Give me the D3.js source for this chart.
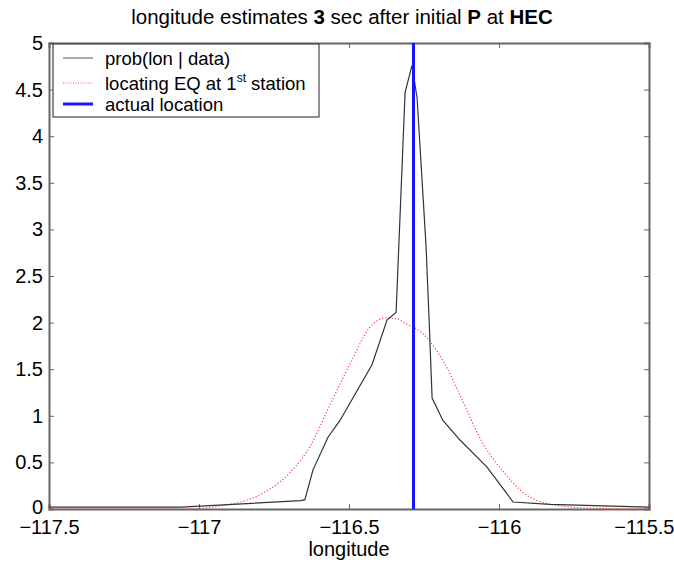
<!DOCTYPE html>
<html>
<head>
<meta charset="utf-8">
<style>
    body { margin: 0; background: white; }
    svg { display: block; font-family: "Liberation Sans", Arial, sans-serif; }
    .axis text { font-size: 20px; fill: #000; }
    .axis line, .axis path { stroke: #666; }
</style>
</head>
<body>
<svg width="674" height="565"></svg>
<script src="https://d3js.org/d3.v7.min.js"></script>
<script>
// posterior longitude probability
var probLon = [-117.5, -117.06, -116.66, -116.647, -116.62, -116.57, -116.53, -116.423, -116.373, -116.343,
               -116.313, -116.29, -116.273, -116.243, -116.233, -116.223, -116.187, -116.13, -116.04, -115.953,
               -115.83, -115.5];
var probVal = [0.02, 0.02, 0.09, 0.10, 0.42, 0.77, 0.95, 1.55, 2.03, 2.11,
               4.47, 4.76, 4.41, 2.81, 2.03, 1.19, 0.95, 0.74, 0.45, 0.075,
               0.05, 0.02];
// first-station estimate (red dotted)
var firstLon = [-117.5, -117.06, -116.897, -116.787, -116.697, -116.63, -116.563, -116.49, -116.433, -116.377,
                -116.34, -116.317, -116.25, -116.183, -116.127, -116.06, -115.983, -115.917, -115.827, -115.7, -115.5];
var firstVal = [0.0, 0.0, 0.05, 0.17, 0.39, 0.67, 1.12, 1.6, 1.94, 2.05,
                2.04, 2.0, 1.87, 1.57, 1.2, 0.74, 0.39, 0.17, 0.05, 0.01, 0.0];
var actualLon = -116.285;

var xTicks = [-117.5, -117, -116.5, -116, -115.5];
var yTicks = [0, 0.5, 1, 1.5, 2, 2.5, 3, 3.5, 4, 4.5, 5];
var legendLabels = ["prob(lon | data)", "locating EQ at 1", "actual location"];

var svg = d3.select("svg");
var mLeft = 49, mRight = 649, mTop = 43, mBottom = 509;

var x = d3.scaleLinear().domain([-117.5, -115.5]).range([mLeft, mRight]);
var y = d3.scaleLinear().domain([0, 5]).range([mBottom, mTop]);

// title
var title = svg.append("text")
    .attr("x", 342).attr("y", 24)
    .attr("text-anchor", "middle")
    .attr("font-size", "20.5px");
title.append("tspan").text("longitude estimates ");
title.append("tspan").attr("font-weight", "bold").text("3");
title.append("tspan").text(" sec after initial ");
title.append("tspan").attr("font-weight", "bold").text("P");
title.append("tspan").text(" at ");
title.append("tspan").attr("font-weight", "bold").text("HEC");

// axes, ticks pointing inward
var xAxisG = svg.append("g").attr("class", "axis")
    .attr("transform", "translate(0," + mBottom + ")")
    .call(d3.axisBottom(x).tickValues(xTicks).tickSize(-5).tickPadding(7).tickFormat(d3.format("")));
xAxisG.selectAll("text").attr("dy", "0.9em");
// last label sits against the window edge
xAxisG.selectAll("text").filter(function(d) { return d === -115.5; })
    .attr("text-anchor", "end").attr("x", 25);
svg.append("g").attr("class", "axis")
    .attr("transform", "translate(0," + mTop + ")")
    .call(d3.axisTop(x).tickValues(xTicks).tickSize(-5).tickFormat(""));
var yAxisG = svg.append("g").attr("class", "axis")
    .attr("transform", "translate(" + mLeft + ",0)")
    .call(d3.axisLeft(y).tickValues(yTicks).tickSize(-5).tickPadding(6).tickFormat(d3.format("")));
// keep the 0 label clear of the x labels
yAxisG.selectAll("text").filter(function(d) { return d === 0; }).attr("dy", "0.2em");
svg.append("g").attr("class", "axis")
    .attr("transform", "translate(" + mRight + ",0)")
    .call(d3.axisRight(y).tickValues(yTicks).tickSize(-5).tickFormat(""));
svg.selectAll(".axis path").attr("stroke-width", 2).attr("stroke", "#666");

svg.append("text")
    .attr("x", 349).attr("y", 556)
    .attr("text-anchor", "middle")
    .attr("font-size", "20px")
    .text("longitude");

var line = d3.line().x(function(d) { return x(d[0]); }).y(function(d) { return y(d[1]); });

svg.append("path")
    .datum(d3.zip(firstLon, firstVal))
    .attr("fill", "none")
    .attr("stroke", "#ff4040")
    .attr("stroke-width", 1.2)
    .attr("stroke-dasharray", "1.2,2")
    .attr("d", d3.line().curve(d3.curveMonotoneX).x(function(d) { return x(d[0]); }).y(function(d) { return y(d[1]); }));

svg.append("path")
    .datum(d3.zip(probLon, probVal))
    .attr("fill", "none")
    .attr("stroke", "#333")
    .attr("stroke-width", 1.2)
    .attr("d", line);

svg.append("line")
    .attr("x1", x(actualLon)).attr("x2", x(actualLon))
    .attr("y1", y(0)).attr("y2", y(5))
    .attr("stroke", "#1515ff")
    .attr("stroke-width", 3);

// legend
var leg = svg.append("g");
leg.append("rect")
    .attr("x", 53).attr("y", 44).attr("width", 266).attr("height", 73)
    .attr("fill", "white").attr("stroke", "#444").attr("stroke-width", 1.2);
var rowsY = [58, 83, 104];
leg.append("line").attr("x1", 63).attr("x2", 93).attr("y1", rowsY[0]).attr("y2", rowsY[0])
    .attr("stroke", "#aaa").attr("stroke-width", 2);
leg.append("line").attr("x1", 63).attr("x2", 93).attr("y1", rowsY[1]).attr("y2", rowsY[1])
    .attr("stroke", "#ff6060").attr("stroke-width", 1).attr("stroke-dasharray", "1,1.5");
leg.append("line").attr("x1", 63).attr("x2", 93).attr("y1", rowsY[2]).attr("y2", rowsY[2])
    .attr("stroke", "#1515ff").attr("stroke-width", 3);
leg.selectAll("text.lab")
    .data(legendLabels)
    .enter().append("text")
    .attr("class", "lab")
    .attr("x", 105)
    .attr("y", function(d, i) { return rowsY[i] + 7; })
    .attr("font-size", "18.5px")
    .text(function(d) { return d; });
var second = leg.selectAll("text.lab").filter(function(d, i) { return i === 1; });
second.append("tspan").attr("dy", "-8").attr("font-size", "12px").text("st");
second.append("tspan").attr("dy", "8").text(" station");
</script>
</body>
</html>
